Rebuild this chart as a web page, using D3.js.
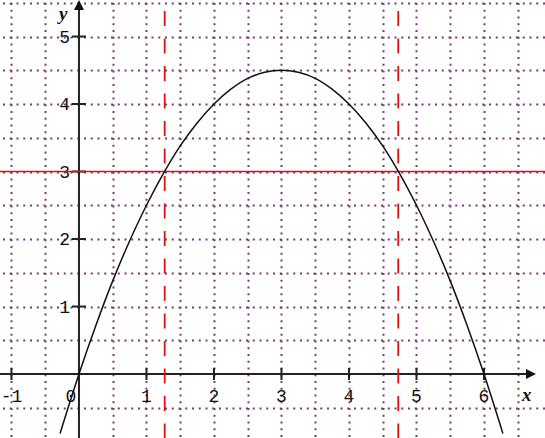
<!DOCTYPE html>
<html>
<head>
<meta charset="utf-8">
<script src="https://cdn.jsdelivr.net/npm/d3@7"></script>
<style>
  html, body { margin: 0; padding: 0; background: #fff; }
  svg { display: block; }
  .tick-label { font-family: "Liberation Mono", "DejaVu Sans Mono", monospace; font-size: 18px; fill: #111; }
  .axis-name { font-family: "Liberation Serif", "DejaVu Serif", serif; font-style: italic; font-weight: bold; font-size: 19px; fill: #111; }
</style>
</head>
<body>
<div class="chart"></div>
<script>
//! CONSTS
const WIDTH = 545
const HEIGHT = 438

//! DATA
// curve points (x, y)
const curveX = [-0.28, 0, 0.25, 0.5, 0.75, 1, 1.25, 1.5, 1.75, 2, 2.25, 2.5, 2.75, 3, 3.25, 3.5, 3.75, 4, 4.25, 4.5, 4.75, 5, 5.25, 5.5, 5.75, 6, 6.28]
const curveY = [-0.88, 0, 0.72, 1.38, 1.97, 2.5, 2.97, 3.38, 3.72, 4, 4.22, 4.38, 4.47, 4.5, 4.47, 4.38, 4.22, 4, 3.72, 3.38, 2.97, 2.5, 1.97, 1.38, 0.72, 0, -0.88]
const hLineY = [3]
const vDashX = [1.27, 4.73]
const xTicks = [-1, 0, 1, 2, 3, 4, 5, 6]
const yTicks = [1, 2, 3, 4, 5]
const gridX = d3.range(-1, 7, 0.5)
const gridY = d3.range(-0.5, 6, 0.5)

//! SCALES
const x = d3.scaleLinear().domain([-1.17, 6.904]).range([0, WIDTH])
const y = d3.scaleLinear().domain([-0.948, 5.541]).range([HEIGHT, 0])

const svg = d3.select('.chart')
  .append('svg')
  .attr('width', WIDTH)
  .attr('height', HEIGHT)

//! GRID (dotted purple)
const grid = svg.append('g').attr('class', 'grid')
grid.selectAll('line.gx')
  .data(gridX.filter(d => d !== 0))
  .enter().append('line')
  .attr('x1', d => Math.round(x(d)) + 0.5)
  .attr('x2', d => Math.round(x(d)) + 0.5)
  .attr('y1', 3).attr('y2', HEIGHT)
  .attr('stroke', '#7a3a7a')
  .attr('stroke-width', 2)
  .attr('stroke-dasharray', '2 4.75')

grid.selectAll('line.gy')
  .data(gridY.filter(d => d !== 0))
  .enter().append('line')
  .attr('y1', d => Math.round(y(d)) + 0.5)
  .attr('y2', d => Math.round(y(d)) + 0.5)
  .attr('x1', 3).attr('x2', WIDTH)
  .attr('stroke', '#7a3a7a')
  .attr('stroke-width', 2)
  .attr('stroke-dasharray', '2 4.75')

//! AXES
const axes = svg.append('g').attr('class', 'axes').attr('stroke', '#222')
axes.append('line')
  .attr('x1', 0).attr('x2', 530)
  .attr('y1', y(0)).attr('y2', y(0))
  .attr('stroke-width', 2)
axes.append('line')
  .attr('x1', x(0)).attr('x2', x(0))
  .attr('y1', HEIGHT).attr('y2', 6)
  .attr('stroke-width', 2)

// arrow heads
svg.append('path')
  .attr('d', `M${536},${y(0)} L${526},${y(0) - 5} L${526},${y(0) + 5} Z`)
  .attr('fill', '#111')
svg.append('path')
  .attr('d', `M${x(0)},0 L${x(0) - 5},10 L${x(0) + 5},10 Z`)
  .attr('fill', '#111')

// tick marks
axes.selectAll('line.tx')
  .data(xTicks.filter(d => d !== 0))
  .enter().append('line')
  .attr('x1', d => x(d)).attr('x2', d => x(d))
  .attr('y1', y(0) - 6).attr('y2', y(0) + 6)
  .attr('stroke-width', 2)
axes.selectAll('line.ty')
  .data(yTicks)
  .enter().append('line')
  .attr('y1', d => y(d)).attr('y2', d => y(d))
  .attr('x1', x(0) - 7).attr('x2', x(0) + 7)
  .attr('stroke-width', 2)

// tick labels
svg.selectAll('text.xl')
  .data(xTicks)
  .enter().append('text')
  .attr('class', 'tick-label')
  .attr('x', d => d === 0 ? x(d) - 8 : x(d))
  .attr('y', y(0) + 28)
  .attr('text-anchor', 'middle')
  .text(d => d < 0 ? '-' + Math.abs(d) : d)

svg.selectAll('text.yl')
  .data(yTicks)
  .enter().append('text')
  .attr('class', 'tick-label')
  .attr('x', x(0) - 9)
  .attr('y', d => y(d) + 6)
  .attr('text-anchor', 'end')
  .text(d => d)

svg.append('text').attr('class', 'axis-name')
  .attr('x', 59).attr('y', 20).text('y')
svg.append('text').attr('class', 'axis-name')
  .attr('x', 522).attr('y', 401).text('x')

//! RED GUIDES
svg.selectAll('line.h')
  .data(hLineY)
  .enter().append('line')
  .attr('x1', 0).attr('x2', WIDTH)
  .attr('y1', d => y(d)).attr('y2', d => y(d))
  .attr('stroke', '#e01010')
  .attr('stroke-width', 1.6)

svg.selectAll('line.v')
  .data(vDashX)
  .enter().append('line')
  .attr('x1', d => x(d)).attr('x2', d => x(d))
  .attr('y1', 11).attr('y2', HEIGHT)
  .attr('stroke', '#e01010')
  .attr('stroke-width', 1.8)
  .attr('stroke-dasharray', '15 12.5')

//! CURVE
const line = d3.line()
  .x((d, i) => x(curveX[i]))
  .y((d, i) => y(d))
  .curve(d3.curveCatmullRom)

svg.append('path')
  .datum(curveY)
  .attr('fill', 'none')
  .attr('stroke', '#111')
  .attr('stroke-width', 1.5)
  .attr('d', line)
</script>
</body>
</html>
